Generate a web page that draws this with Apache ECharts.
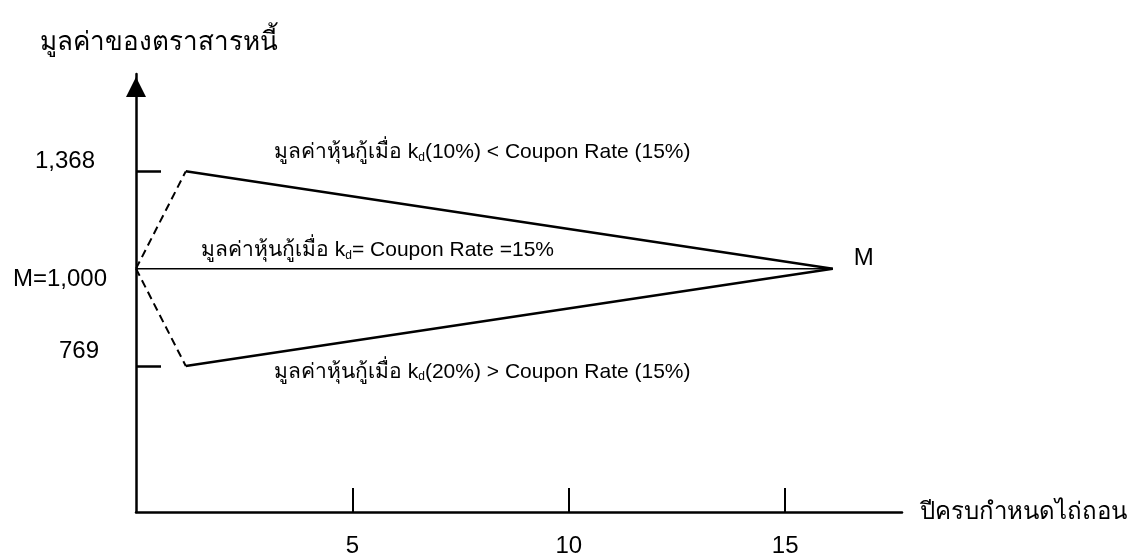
<!DOCTYPE html>
<html>
<head>
<meta charset="utf-8">
<script src="https://cdn.jsdelivr.net/npm/echarts@6/dist/echarts.min.js"></script>
<style>
	html, body { margin: 0; padding: 0; background: #fff; }
	#main { width: 1139px; height: 554px; }
</style>
</head>
<body>
<div id="main"></div>
<script>
	// ระดับมูลค่าบนแกนตั้ง (ล่าง -> บน), ช่องว่างคือระยะห่าง
	var yLevels = ['', '', '', '769', '', '1000', '', '1368', '', ''];
	var xTicks = [5, 10, 15];

	// ปี: ณ วันนี้, หลังเปลี่ยนอัตรา, ครบกำหนด
	var years = [0, 1.15, 16.1];
	var parValue = '1000';   // M
	var premiumValue = '1368';  // kd 10%
	var discountValue = '769';  // kd 20%

	var font = "'Liberation Sans', Arial, 'DejaVu Sans', sans-serif";

	var labelText = {
		'1368': '{hi|1,368}',
		'1000': '{mid|M=1,000}',
		'769': '{lo|769}'
	};

	var myChart = echarts.init(document.getElementById('main'));

	var annot = function (x, y, text, off) {
		return {
			coord: [x, y],
			symbol: 'circle',
			symbolSize: 0,
			label: {
				show: true,
				position: 'inside',
				offset: off,
				formatter: text,
				color: '#000',
				fontFamily: font,
				rich: {
					t: { fontSize: 21, fontFamily: font, color: '#000' },
					s: { fontSize: 12, fontFamily: font, color: '#000', padding: [10, 0, 0, 0] }
				}
			}
		};
	};

	var option = {
		animation: false,
		title: {
			text: 'มูลค่าของตราสารหนี้',
			left: 35,
			top: 25,
			textStyle: { fontSize: 26, fontWeight: 'normal', color: '#000', fontFamily: font }
		},
		grid: { left: 136, right: 237, top: 74, bottom: 42, outerBoundsMode: 'none' },
		xAxis: {
			type: 'value',
			min: 0,
			max: 17.7,
			name: 'ปีครบกำหนดไถ่ถอน',
			nameLocation: 'end',
			nameGap: 18,
			nameTextStyle: { fontSize: 24, color: '#000', fontFamily: font },
			splitLine: { show: false },
			axisLine: { show: true, onZero: false, lineStyle: { color: '#000', width: 2.5 } },
			axisTick: { show: true, inside: true, length: 24, customValues: xTicks, lineStyle: { color: '#000', width: 2 } },
			axisLabel: { customValues: xTicks, margin: 22, fontSize: 24, color: '#000', fontFamily: font }
		},
		yAxis: {
			type: 'category',
			data: yLevels,
			boundaryGap: false,
			splitLine: { show: false },
			axisLine: {
				show: true,
				lineStyle: { color: '#000', width: 2.5 },
				symbol: ['none', 'triangle'],
				symbolSize: [20, 20],
				symbolOffset: [0, -13]
			},
			axisTick: {
				show: true,
				inside: true,
				length: 25,
				interval: function (i, v) { return v === premiumValue || v === discountValue; },
				lineStyle: { color: '#000', width: 2.5 }
			},
			axisLabel: {
				interval: 0,
				margin: 29,
				fontSize: 24,
				color: '#000',
				fontFamily: font,
				formatter: function (v) { return labelText[v] || ''; },
				rich: {
					hi: { fontSize: 24, fontFamily: font, color: '#000', padding: [0, 12, 20, 0] },
					mid: { fontSize: 24, fontFamily: font, color: '#000', padding: [22, 0, 0, 0] },
					lo: { fontSize: 24, fontFamily: font, color: '#000', padding: [0, 8, 30, 0] }
				}
			}
		},
		series: [
			{
				type: 'line',
				symbol: 'none',
				data: [[years[1], premiumValue], [years[2], parValue]],
				lineStyle: { color: '#000', width: 2.5 },
				markPoint: {
					data: [annot(8, premiumValue, '{t|มูลค่าหุ้นกู้เมื่อ k}{s|d}{t|(10%) < Coupon Rate (15%)}', [0, -19])]
				}
			},
			{
				type: 'line',
				symbol: 'none',
				data: [[years[1], discountValue], [years[2], parValue]],
				lineStyle: { color: '#000', width: 2.5 },
				markPoint: {
					data: [annot(8, discountValue, '{t|มูลค่าหุ้นกู้เมื่อ k}{s|d}{t|(20%) > Coupon Rate (15%)}', [0, 6])]
				}
			},
			{
				type: 'line',
				symbol: 'none',
				data: [[years[0], parValue], [years[2], parValue]],
				lineStyle: { color: '#000', width: 1.5 },
				markPoint: {
					data: [
						annot(5.58, parValue, '{t|มูลค่าหุ้นกู้เมื่อ k}{s|d}{t|= Coupon Rate =15%}', [0, -18]),
						annot(years[2], parValue, '{m|M}', [31, -10])
					],
					label: { rich: { m: { fontSize: 24, fontFamily: font, color: '#000' } } }
				}
			},
			{
				type: 'line',
				symbol: 'none',
				data: [[years[0], parValue], [years[1], premiumValue]],
				lineStyle: { color: '#000', width: 2, type: [8, 5] }
			},
			{
				type: 'line',
				symbol: 'none',
				data: [[years[0], parValue], [years[1], discountValue]],
				lineStyle: { color: '#000', width: 2, type: [8, 5] }
			}
		]
	};
	myChart.setOption(option);
</script>
</body>
</html>
